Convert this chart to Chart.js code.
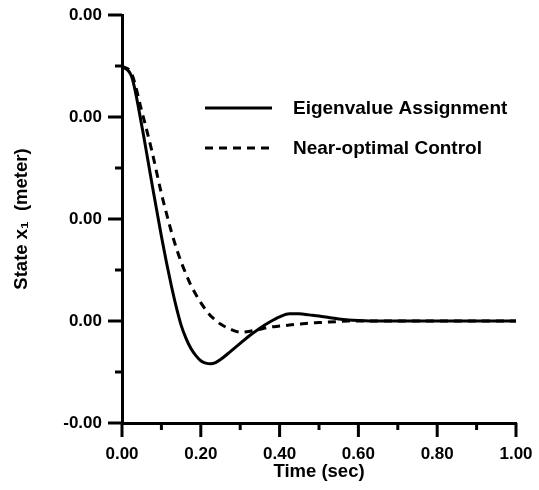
<!DOCTYPE html>
<html>
<head>
<meta charset="utf-8">
<script src="https://cdn.jsdelivr.net/npm/chart.js@4/dist/chart.umd.min.js"></script>
<style>
  html, body { margin: 0; padding: 0; background: #fff; }
  #wrap { width: 539px; height: 490px; }
</style>
</head>
<body>
<div id="wrap"><canvas id="state-chart"></canvas></div>
<script>
// time axis (sec)
const time = [0, 0.025, 0.05, 0.075, 0.1, 0.1125, 0.125, 0.1375, 0.15, 0.1625, 0.175, 0.1875, 0.2, 0.2125,
  0.225, 0.2375, 0.25, 0.275, 0.3, 0.325, 0.35, 0.375, 0.4, 0.425, 0.45, 0.475, 0.5, 0.525, 0.55, 0.575,
  0.6, 0.65, 0.7, 0.8, 0.9, 1.0]

// state x1 (meter)
const eigenAssign = [0.00250, 0.00239, 0.00192, 0.00137, 0.00083, 0.00058, 0.00035, 0.00014, -0.00004, -0.00017,
  -0.00027, -0.00034, -0.00039, -0.000413, -0.00042, -0.000408, -0.000378, -0.00030, -0.00022, -0.00014, -0.00007,
  -0.00001, 0.00004, 0.00007, 0.00007, 0.00006, 0.00005, 0.000035, 0.00002, 0.00001,
  0.000005, 0, 0, 0, 0, 0]
const nearOptimal = [0.00250, 0.00242, 0.00206, 0.00168, 0.00125, 0.00106, 0.00088, 0.00072, 0.00058, 0.00046,
  0.00035, 0.00026, 0.00018, 0.00011, 0.00005, 0.00001, -0.00003, -0.00008, -0.00011, -0.00010, -0.00008,
  -0.00006, -0.00005, -0.00004, -0.00003, -0.00002, -0.000015, -0.00001, -0.000005, 0,
  0, 0, 0, 0, 0, 0]

const seriesNames = ["Eigenvalue Assignment", "Near-optimal Control"]

// tick values
const xMajor = [0, 0.2, 0.4, 0.6, 0.8, 1.0]
const xMinor = [0.1, 0.3, 0.5, 0.7, 0.9]
const yMajor = [-0.001, 0, 0.001, 0.002, 0.003]
const yMinor = [-0.0005, 0.0005, 0.0015, 0.0025]

const toPoints = (ys) => time.map((t, i) => ({ x: t, y: ys[i] }))

// tick marks drawn outside the axes + legend inside the plot
const axisDeco = {
  id: 'axisDeco',
  afterDraw(chart) {
    const ctx = chart.ctx
    const xs = chart.scales.x, ys = chart.scales.y
    const area = chart.chartArea
    ctx.save()
    ctx.strokeStyle = '#000'
    ctx.lineWidth = 3
    ctx.lineCap = 'butt'
    xMajor.forEach(v => { const p = xs.getPixelForValue(v); ctx.beginPath(); ctx.moveTo(p, area.bottom); ctx.lineTo(p, area.bottom + 14); ctx.stroke() })
    xMinor.forEach(v => { const p = xs.getPixelForValue(v); ctx.beginPath(); ctx.moveTo(p, area.bottom); ctx.lineTo(p, area.bottom + 7); ctx.stroke() })
    yMajor.forEach(v => { const p = ys.getPixelForValue(v); ctx.beginPath(); ctx.moveTo(area.left, p); ctx.lineTo(area.left - 14, p); ctx.stroke() })
    yMinor.forEach(v => { const p = ys.getPixelForValue(v); ctx.beginPath(); ctx.moveTo(area.left, p); ctx.lineTo(area.left - 7, p); ctx.stroke() })

    // legend
    ctx.font = 'bold 19px "Liberation Sans", Arial, sans-serif'
    ctx.fillStyle = '#000'
    ctx.textBaseline = 'middle'
    chart.data.datasets.forEach((ds, i) => {
      const y = 108 + i * 40
      ctx.lineWidth = 3
      ctx.setLineDash(ds.borderDash || [])
      ctx.beginPath(); ctx.moveTo(205, y); ctx.lineTo(272, y); ctx.stroke()
      ctx.setLineDash([])
      ctx.fillText(ds.label, 293, y + 1)
    })
    ctx.restore()
  }
}

const tickFont = { family: '"Liberation Sans", Arial, sans-serif', size: 17, weight: 'bold' }
const titleFont = { family: '"Liberation Sans", Arial, sans-serif', size: 18.5, weight: 'bold' }
// invisible grid: only used to push the tick labels away from the axis
const hiddenGrid = (len) => ({ display: true, drawOnChartArea: false, drawTicks: true, tickLength: len,
  color: 'rgba(0,0,0,0)', tickColor: 'rgba(0,0,0,0)' })

new Chart(document.getElementById('state-chart'), {
  type: 'line',
  data: {
    datasets: [
      { label: seriesNames[0], data: toPoints(eigenAssign), borderColor: '#000', borderWidth: 3,
        pointRadius: 0, cubicInterpolationMode: 'monotone', fill: false },
      { label: seriesNames[1], data: toPoints(nearOptimal), borderColor: '#000', borderWidth: 3,
        borderDash: [8, 6], pointRadius: 0, cubicInterpolationMode: 'monotone', fill: false }
    ]
  },
  options: {
    responsive: true,
    maintainAspectRatio: false,
    animation: false,
    layout: { padding: { top: 15, right: 23, left: 0, bottom: 7 } },
    plugins: { legend: { display: false }, tooltip: { enabled: false } },
    scales: {
      x: {
        type: 'linear', min: 0, max: 1,
        afterFit: (s) => { s.height = 60 },
        grid: hiddenGrid(21),
        border: { display: true, color: '#000', width: 3 },
        ticks: { stepSize: 0.2, padding: 0, color: '#000', font: tickFont, maxRotation: 0,
          callback: (v) => v.toFixed(2) },
        title: { display: true, text: 'Time (sec)', color: '#000', font: titleFont, padding: 0 }
      },
      y: {
        type: 'linear', min: -0.001, max: 0.003,
        afterFit: (s) => { s.width = 122 },
        grid: hiddenGrid(20),
        border: { display: true, color: '#000', width: 3 },
        ticks: { stepSize: 0.001, padding: 0, color: '#000', font: tickFont,
          callback: (v) => v.toFixed(2) },
        title: { display: true, text: 'State x\u2081  (meter)', color: '#000', font: titleFont,
          padding: { top: 11, bottom: 0 } }
      }
    }
  },
  plugins: [axisDeco]
})
</script>
</body>
</html>
